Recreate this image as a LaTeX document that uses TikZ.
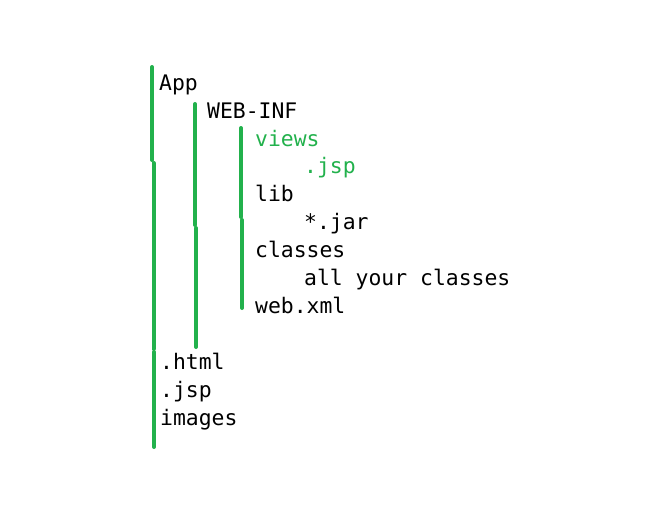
\documentclass[tikz,border=0pt]{standalone}
\usepackage{fontspec}
\newfontfamily\treefont{DejaVu Sans Mono}
\definecolor{pgreen}{HTML}{22B14C}
\tikzset{
  entry/.style={anchor=base west, inner sep=0pt, font=\treefont\fontsize{21.4}{25}\selectfont, text=black},
  gentry/.style={entry, text=pgreen},
  bar/.style={draw=pgreen, line width=4pt, line cap=round}
}
\begin{document}
\begin{tikzpicture}[x=1pt,y=-1pt]
\useasboundingbox (0,0) rectangle (664,523);
% bars
\draw[bar] (152,67) -- (152,160);
\draw[bar] (153.5,163) -- (153.5,349);
\draw[bar] (154,352) -- (154,447);
\draw[bar] (195,104) -- (195,225);
\draw[bar] (196,228) -- (196,347);
\draw[bar] (241,128) -- (241,217);
\draw[bar] (242,220) -- (242,308);
% entries
\node[entry]  (app)     at (159,90.2)  {App};
\node[entry]  (webinf)  at (207,118.1) {WEB-INF};
\node[gentry] (views)   at (255,146.0) {views};
\node[gentry] (vjsp)    at (304,173.9) {.jsp};
\node[entry]  (lib)     at (255,201.8) {lib};
\node[entry]  (jar)     at (304,229.7) {*.jar};
\node[entry]  (classes) at (255,257.6) {classes};
\node[entry]  (allcl)   at (304,285.5) {all your classes};
\node[entry]  (webxml)  at (255,313.4) {web.xml};
\node[entry]  (html)    at (160,369.2) {.html};
\node[entry]  (jsp)     at (160,397.1) {.jsp};
\node[entry]  (images)  at (160,425.0) {images};
\end{tikzpicture}
\end{document}
